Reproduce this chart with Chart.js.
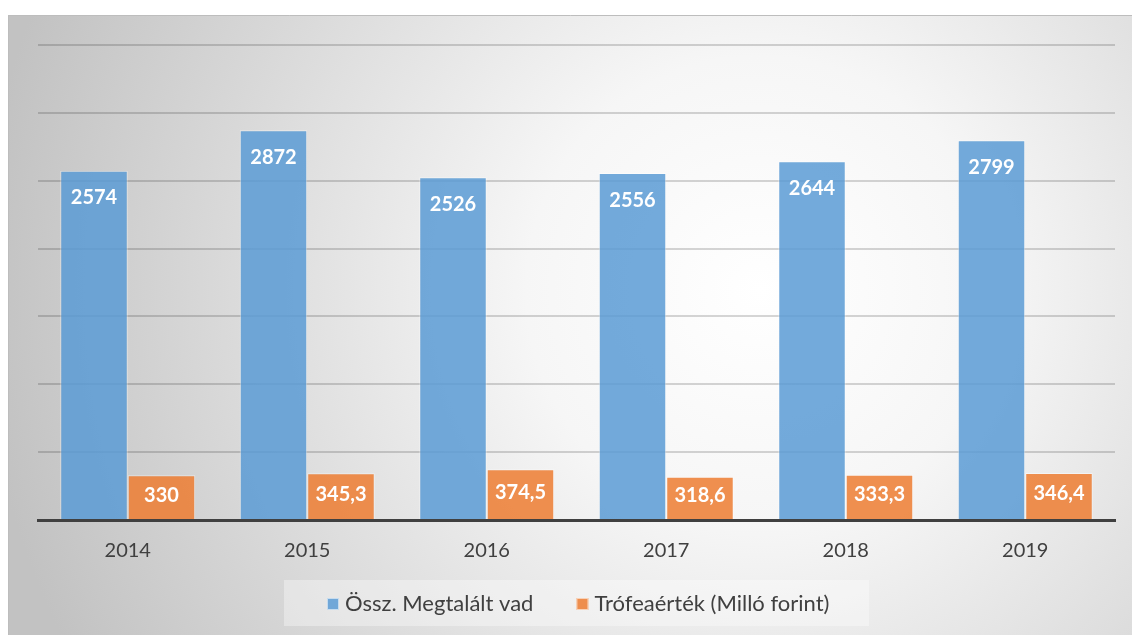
<!DOCTYPE html>
<html>
<head>
<meta charset="utf-8">
<script src="https://cdn.jsdelivr.net/npm/chart.js@4/dist/chart.umd.min.js"></script>
<style>
  html, body { margin: 0; padding: 0; background: #fff; }
  #wrap { width: 1132px; height: 635px; position: relative; }
</style>
</head>
<body>
<div id="wrap"><canvas id="chart" width="1132" height="635"></canvas></div>
<script>
// years and values
const years = ['2014', '2015', '2016', '2017', '2018', '2019']
const foundGame = [2574, 2872, 2526, 2556, 2644, 2799]
const trophyValue = [330, 345.3, 374.5, 318.6, 333.3, 346.4]
const seriesNames = ['Össz. Megtalált vad', 'Trófeaérték (Milló forint)']

const fmt = v => String(v).replace('.', ',')

// gradient panel behind the whole chart + lighter legend box
const backdrop = {
  id: 'backdrop',
  beforeDraw(chart) {
    const ctx = chart.ctx
    ctx.save()
    const g = ctx.createRadialGradient(760, 290, 0, 760, 290, 780)
    g.addColorStop(0, '#ffffff')
    g.addColorStop(0.3, '#f6f6f6')
    g.addColorStop(1, '#c2c2c2')
    ctx.fillStyle = g
    ctx.fillRect(8, 15, 1124, 620)
    ctx.strokeStyle = '#bdbdbd'
    ctx.lineWidth = 1
    ctx.beginPath()
    ctx.moveTo(8.5, 635)
    ctx.lineTo(8.5, 15.5)
    ctx.lineTo(1132, 15.5)
    ctx.stroke()
    ctx.fillStyle = 'rgba(255,255,255,0.35)'
    ctx.fillRect(284, 580, 585, 46)
    ctx.restore()
  }
}

// legend drawn by hand so spacing matches the reference
const legendRow = {
  id: 'legendRow',
  afterDraw(chart) {
    const ctx = chart.ctx
    ctx.save()
    ctx.font = '22px Lato'
    ctx.textBaseline = 'middle'
    let x = 327
    const y = 604
    chart.data.datasets.forEach(ds => {
      ctx.fillStyle = ds.backgroundColor
      ctx.fillRect(x, y - 6, 12, 12)
      ctx.strokeStyle = 'rgba(255,255,255,0.6)'
      ctx.lineWidth = 1
      ctx.strokeRect(x + 0.5, y - 5.5, 11, 11)
      ctx.fillStyle = '#404040'
      ctx.fillText(ds.label, x + 18, y)
      x += 18 + ctx.measureText(ds.label).width + 43
    })
    ctx.restore()
  }
}

// white bold value labels inside the bars
const barLabels = {
  id: 'barLabels',
  afterDatasetsDraw(chart) {
    const ctx = chart.ctx
    ctx.save()
    ctx.font = 'bold 20px Lato'
    ctx.fillStyle = '#ffffff'
    ctx.textAlign = 'center'
    ctx.textBaseline = 'middle'
    chart.data.datasets.forEach((ds, i) => {
      chart.getDatasetMeta(i).data.forEach((bar, j) => {
        const y = Math.min(bar.y + 27, (bar.y + bar.base) / 2 - 2)
        ctx.fillText(fmt(ds.data[j]), bar.x, y)
      })
    })
    ctx.restore()
  }
}

new Chart(document.getElementById('chart'), {
  type: 'bar',
  data: {
    labels: years,
    datasets: [
      {
        label: seriesNames[0],
        data: foundGame,
        backgroundColor: 'rgba(91,155,213,0.85)',
        borderColor: 'rgba(255,255,255,0.45)',
        borderWidth: 1
      },
      {
        label: seriesNames[1],
        data: trophyValue,
        backgroundColor: 'rgba(237,125,49,0.85)',
        borderColor: 'rgba(255,255,255,0.45)',
        borderWidth: 1
      }
    ]
  },
  options: {
    responsive: false,
    animation: false,
    events: [],
    layout: { padding: { left: 38, right: 17, top: 45, bottom: 53 } },
    datasets: { bar: { categoryPercentage: 0.752, barPercentage: 1.0 } },
    scales: {
      x: {
        grid: { display: false, drawTicks: false },
        border: { color: '#404040', width: 3 },
        ticks: { color: '#404040', font: { family: 'Lato', size: 20 }, padding: 19 },
        afterFit(scale) { scale.height = 62 }
      },
      y: {
        min: 0,
        max: 3500,
        ticks: { display: false, stepSize: 500 },
        grid: { color: 'rgba(0,0,0,0.16)', lineWidth: 2, drawTicks: false },
        border: { display: false },
        afterFit(scale) { scale.width = 0 }
      }
    },
    plugins: {
      legend: { display: false },
      tooltip: { enabled: false }
    }
  },
  plugins: [backdrop, barLabels, legendRow]
})
</script>
</body>
</html>
